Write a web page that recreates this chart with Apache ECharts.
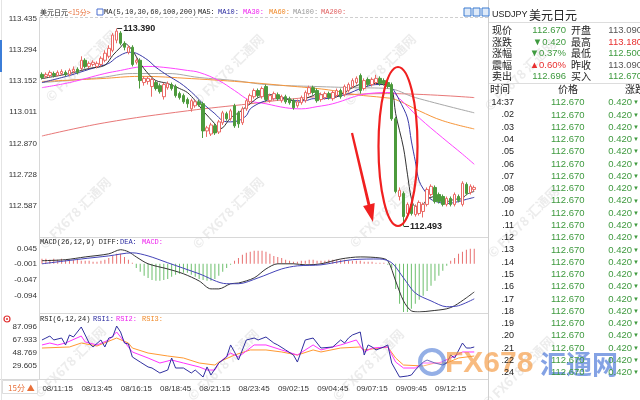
<!DOCTYPE html>
<html><head><meta charset="utf-8">
<script src="https://cdn.jsdelivr.net/npm/echarts@6/dist/echarts.min.js"></script>
<style>html,body{margin:0;padding:0;background:#fff}#c{width:640px;height:400px}</style>
</head><body><div id="c"></div>
<script>
// ---------- DATA ----------
// candles: [open, close, low, high]
const candles = [
[113.182,113.168,113.159,113.191],[113.173,113.182,113.164,113.191],[113.177,113.191,113.168,113.200],
[113.186,113.177,113.168,113.195],[113.177,113.191,113.173,113.200],[113.186,113.195,113.177,113.205],
[113.191,113.182,113.173,113.200],[113.182,113.200,113.173,113.209],[113.195,113.205,113.186,113.218],
[113.205,113.191,113.182,113.214],[113.209,113.246,113.200,113.264],[113.246,113.218,113.209,113.255],
[113.218,113.232,113.209,113.241],[113.227,113.237,113.218,113.246],[113.218,113.232,113.209,113.241],
[113.227,113.255,113.218,113.264],[113.246,113.278,113.237,113.291],[113.264,113.300,113.255,113.314],
[113.291,113.360,113.282,113.369],[113.337,113.378,113.323,113.390],[113.369,113.323,113.314,113.378],
[113.323,113.305,113.291,113.332],[113.282,113.305,113.273,113.314],[113.305,113.227,113.218,113.314],
[113.237,113.246,113.227,113.255],[113.246,113.154,113.118,113.255],[113.145,113.164,113.131,113.173],
[113.150,113.164,113.136,113.173],[113.127,113.159,113.081,113.168],[113.145,113.118,113.109,113.154],
[113.131,113.104,113.095,113.141],[113.081,113.136,113.068,113.145],[113.122,113.141,113.113,113.150],
[113.136,113.118,113.109,113.145],[113.127,113.086,113.077,113.136],[113.095,113.077,113.068,113.104],
[113.086,113.058,113.049,113.095],[113.068,113.049,113.031,113.077],[113.026,113.063,113.013,113.072],
[113.040,113.058,113.031,113.068],[113.058,113.045,113.036,113.068],[113.049,112.926,112.894,113.058],
[112.926,112.940,112.899,112.949],[112.912,112.953,112.903,112.963],[112.949,112.917,112.908,112.958],
[112.921,112.967,112.912,112.976],[112.963,113.008,112.953,113.017],[113.004,112.981,112.972,113.013],
[112.981,113.017,112.972,113.026],[113.040,112.949,112.940,113.049],[113.008,112.958,112.940,113.017],
[112.963,113.026,112.953,113.036],[113.026,113.063,113.017,113.072],[113.058,113.086,113.049,113.095],
[113.081,113.109,113.072,113.118],[113.109,113.086,113.077,113.118],[113.081,113.118,113.072,113.127],
[113.127,113.068,113.058,113.136],[113.063,113.086,113.054,113.095],[113.072,113.095,113.063,113.104],
[113.090,113.072,113.063,113.100],[113.063,113.081,113.054,113.090],[113.081,113.058,113.049,113.090],
[113.072,113.054,113.045,113.081],[113.063,113.031,113.022,113.072],[113.040,113.058,113.031,113.068],
[113.054,113.077,113.045,113.086],[113.063,113.100,113.054,113.109],[113.095,113.122,113.086,113.131],
[113.122,113.100,113.090,113.131],[113.109,113.063,113.054,113.118],[113.068,113.090,113.058,113.100],
[113.077,113.095,113.068,113.104],[113.095,113.077,113.068,113.104],[113.072,113.100,113.063,113.109],
[113.086,113.109,113.077,113.118],[113.109,113.081,113.072,113.118],[113.090,113.127,113.081,113.136],
[113.109,113.136,113.100,113.145],[113.127,113.154,113.118,113.164],[113.145,113.164,113.136,113.173],
[113.177,113.109,113.095,113.186],[113.118,113.154,113.109,113.164],[113.159,113.136,113.127,113.168],
[113.136,113.159,113.127,113.168],[113.145,113.164,113.136,113.180],[113.164,113.141,113.131,113.173],
[113.154,113.141,113.131,113.164],[113.145,113.127,113.118,113.154],[113.136,112.981,112.972,113.145],
[112.981,112.652,112.643,112.990],[112.629,112.657,112.611,112.670],[112.643,112.538,112.493,112.652],
[112.552,112.593,112.543,112.602],[112.593,112.552,112.543,112.602],[112.547,112.584,112.538,112.593],
[112.552,112.602,112.543,112.611],[112.561,112.593,112.534,112.602],[112.593,112.661,112.584,112.670],
[112.638,112.675,112.629,112.684],[112.670,112.606,112.597,112.679],[112.638,112.606,112.597,112.647],
[112.629,112.593,112.584,112.638],[112.593,112.620,112.584,112.629],[112.620,112.593,112.584,112.629],
[112.593,112.638,112.584,112.647],[112.629,112.611,112.602,112.638],[112.593,112.689,112.584,112.698],
[112.684,112.643,112.634,112.693],[112.647,112.675,112.638,112.684],[112.661,112.670,112.652,112.679]
];
// moving averages: [bar index, value]
const ma5 = [[0,113.163],[7,113.186],[12,113.209],[16,113.223],[18,113.268],[20,113.305],[21,113.323],[23,113.291],[25,113.232],[27,113.186],[29,113.154],[32,113.141],[35,113.118],[37,113.100],[39,113.063],[41,113.017],[44,112.958],[45,112.935],[46,112.940],[48,112.985],[50,113.008],[52,113.036],[53,113.049],[55,113.077],[57,113.086],[58,113.090],[60,113.086],[62,113.072],[64,113.063],[65,113.054],[67,113.072],[69,113.086],[70,113.095],[72,113.086],[74,113.077],[77,113.100],[79,113.122],[82,113.141],[85,113.141],[87,113.136],[89,113.118],[90,113.004],[92,112.849],[93,112.730],[94,112.620],[95,112.584],[97,112.593],[98,112.616],[100,112.629],[102,112.616],[103,112.606],[105,112.616],[107,112.620],[108,112.638],[110,112.652]];
const ma10 = [[0,113.145],[7,113.177],[12,113.205],[17,113.232],[19,113.259],[22,113.282],[24,113.278],[27,113.246],[29,113.214],[32,113.177],[35,113.145],[37,113.118],[39,113.086],[41,113.049],[44,113.004],[46,112.972],[48,112.967],[50,112.972],[52,112.995],[53,113.026],[55,113.049],[57,113.063],[59,113.072],[62,113.072],[64,113.063],[67,113.063],[69,113.072],[72,113.072],[74,113.077],[78,113.095],[81,113.118],[85,113.136],[87,113.136],[89,113.122],[91,113.063],[93,112.985],[94,112.880],[95,112.789],[96,112.698],[98,112.638],[99,112.616],[101,112.602],[103,112.597],[106,112.606],[108,112.616],[110,112.625]];
const ma30 = [[0,113.122],[7,113.145],[16,113.186],[20,113.200],[24,113.214],[27,113.218],[31,113.214],[37,113.200],[40,113.191],[45,113.154],[49,113.109],[53,113.063],[57,113.049],[62,113.031],[66,113.026],[70,113.036],[74,113.049],[83,113.095],[89,113.100],[91,113.072],[96,112.985],[102,112.894],[107,112.821],[110,112.775]];
const ma60 = [[0,113.150],[15,113.163],[25,113.173],[38,113.163],[53,113.145],[62,113.131],[70,113.118],[74,113.109],[80,113.090],[87,113.077],[90,113.068],[96,113.017],[102,112.972],[110,112.935]];
const ma100 = [[0,113.145],[15,113.168],[23,113.186],[32,113.186],[40,113.168],[49,113.154],[57,113.136],[70,113.127],[79,113.122],[88,113.118],[95,113.077],[110,113.008]];
const ma200 = [[0,112.903],[16,112.963],[37,113.017],[53,113.049],[62,113.068],[74,113.086],[88,113.095],[110,113.077]];
const extremes = [[19,113.390],[92,112.493]];
// MACD
const macdHist = [0.015,0.015,0.012,0.015,0.012,0.015,0.012,0.012,0.012,0.012,0.009,0.009,0.009,0.006,0.006,0.009,0.012,0.017,0.023,0.029,0.029,0.020,0.012,0.003,
-0.012,-0.023,-0.035,-0.041,-0.047,-0.049,-0.049,-0.047,-0.044,-0.038,-0.032,-0.029,-0.026,-0.026,-0.032,-0.038,-0.044,-0.047,-0.049,-0.049,-0.044,-0.035,-0.023,-0.012,-0.003,
0.009,0.017,0.026,0.032,0.035,0.038,0.038,0.038,0.035,0.029,0.023,0.020,0.017,0.012,0.009,0.006,0.006,0.009,0.009,0.012,0.012,0.009,0.009,0.009,0.012,0.012,0.012,0.012,0.012,0.009,0.009,0.009,0.009,0.006,0.006,0.006,0.003,0.003,0.003,-0.003,
-0.012,-0.073,-0.116,-0.140,-0.140,-0.131,-0.116,-0.105,-0.093,-0.079,-0.064,-0.049,-0.035,-0.020,-0.006,0.009,0.017,0.029,0.035,0.041,0.044,0.044];
const diff = [[0,0.009],[6,0.012],[11,0.020],[17,0.029],[20,0.041],[22,0.035],[24,0.020],[27,0.000],[32,-0.015],[36,-0.029],[40,-0.050],[43,-0.073],[45,-0.073],[48,-0.058],[50,-0.056],[54,-0.041],[57,-0.015],[60,0.000],[64,0.000],[67,-0.003],[71,0.000],[76,0.014],[81,0.020],[86,0.017],[88,0.009],[90,-0.050],[92,-0.108],[94,-0.137],[96,-0.140],[99,-0.137],[103,-0.131],[105,-0.122],[108,-0.099],[110,-0.082]];
const dea = [[0,0.000],[10,0.014],[17,0.023],[23,0.032],[27,0.023],[32,0.003],[40,-0.029],[47,-0.058],[50,-0.058],[55,-0.041],[61,-0.015],[65,-0.006],[71,-0.003],[79,0.012],[86,0.014],[89,0.003],[92,-0.041],[95,-0.085],[99,-0.108],[103,-0.125],[106,-0.122],[110,-0.102]];
// RSI
const rsi1 = [[0,67.4],[1,70.2],[2,73.1],[3,67.4],[5,70.2],[6,60.2],[7,74.6],[8,71.7],[10,86.1],[11,74.6],[12,63.0],[13,57.3],[15,67.4],[16,57.3],[17,70.2],[18,71.7],[19,87.5],[20,78.9],[21,63.0],[22,61.6],[23,42.9],[25,35.6],[27,28.5],[28,27.0],[30,19.8],[32,24.1],[33,41.4],[34,27.0],[36,27.0],[38,19.8],[39,24.1],[41,14.0],[42,28.5],[43,16.9],[45,34.2],[47,42.9],[48,60.2],[49,50.1],[50,38.5],[52,67.4],[54,70.2],[55,67.4],[57,71.7],[59,63.0],[60,60.2],[62,53.0],[64,45.7],[65,35.6],[67,67.4],[69,70.2],[71,55.8],[74,57.3],[76,67.4],[77,63.0],[78,70.2],[79,74.6],[81,78.9],[82,45.7],[83,60.2],[84,57.3],[85,53.0],[87,57.3],[88,60.2],[89,34.2],[90,24.1],[91,14.0],[93,15.5],[94,16.9],[95,24.1],[97,35.6],[98,38.5],[100,34.2],[102,31.3],[103,34.2],[104,45.7],[105,41.4],[107,63.0],[108,55.8],[109,55.8],[110,57.3]];
const rsi2 = [[0,60.2],[2,63.0],[4,60.2],[6,63.0],[10,73.1],[11,64.5],[14,60.2],[17,67.4],[19,78.9],[21,64.5],[23,50.1],[27,41.4],[30,34.2],[33,38.5],[36,34.2],[40,28.5],[42,24.1],[44,24.1],[45,34.2],[48,48.6],[50,42.9],[54,60.2],[57,60.2],[61,53.0],[65,45.7],[69,60.2],[71,53.0],[76,60.2],[80,67.4],[82,50.1],[84,55.8],[88,57.3],[90,35.6],[92,27.0],[95,27.0],[97,34.2],[101,34.2],[104,41.4],[107,50.1],[110,50.1]];
const rsi3 = [[0,55.8],[7,57.3],[10,63.0],[14,58.7],[19,70.2],[22,63.0],[23,55.8],[27,48.6],[32,44.3],[36,41.4],[40,34.2],[44,31.3],[45,35.6],[49,45.7],[53,53.0],[57,53.0],[61,50.1],[65,45.7],[69,53.0],[71,50.1],[76,55.8],[81,57.3],[82,53.0],[88,57.3],[90,41.4],[92,31.3],[97,29.9],[100,34.2],[103,34.2],[106,41.4],[110,44.3]];
// axis tick labels
const priceTicks = ['112.587','112.728','112.870','113.011','113.152','113.294','113.435'];
const macdTicks = ['-0.094','-0.047','-0.001','0.045'];
const rsiTicks = ['29.605','48.769','67.933','87.096'];
const timeTicks = ['08/11:15','08/13:45','08/16:15','08/18:45','08/21:15','08/23:45','09/02:15','09/04:45','09/07:15','09/09:45','09/12:15'];
// quote panel
const quoteLabelsL = ['现价','涨跌','涨幅','震幅','卖出'];
const quoteValuesL = ['112.670','▼0.420','▼0.37%','▲0.60%','112.696'];
const quoteLabelsR = ['开盘','最高','最低','昨收','买入'];
const quoteValuesR = ['113.090','113.180','112.500','113.090','112.670'];
const tickTimes = ['14:37','.02','.03','.04','.05','.06','.07','.08','.09','.10','.11','.12','.13','.14','.15','.16','.17','.18','.19','.20','.21','.22','.24'];
const tickPrices = tickTimes.map(()=> '112.670');
const tickChanges = tickTimes.map(()=> '0.420');

// ---------- BUILD ----------
const NCAT = 114;
const cats = [];
{ let d = 8, h = 10, m = 15;
  for (let i = 0; i < NCAT; i++) {
    cats.push(String(d).padStart(2,'0') + '/' + String(h).padStart(2,'0') + ':' + String(m).padStart(2,'0'));
    m += 15; if (m >= 60) { m -= 60; h++; } if (h >= 24) { h -= 24; d++; }
  } }
const nearest = (labels, tol) => v => { for (const l of labels) if (Math.abs(parseFloat(l) - v) < tol) return l; return ''; };

const GREEN = '#3f9a3f', RED = '#e83030';
const CJK = '"Noto Sans CJK SC", sans-serif';
const MONO = '"Liberation Mono", "DejaVu Sans Mono", monospace';
const NUM = '"Liberation Sans", Arial, sans-serif';

const g = [];
const txt = (x, y, t, fill, font, align) => g.push({type:'text', silent:true, style:{x, y, text:t, fill, font, textAlign: align||'left', textVerticalAlign:'middle', align: align||'left', verticalAlign:'middle'}, z:10});
const line = (x1,y1,x2,y2,stroke,dash) => g.push({type:'line', silent:true, shape:{x1,y1,x2,y2}, style:{stroke, lineWidth:1, lineDash: dash||null}, z:5});

// watermarks
const wm = [[81,66],[228,70],[380,70],[520,75],[75,213],[228,213],[385,212],[523,222],[70,362],[223,365],[368,365],[518,372]];
wm.forEach(p => g.push({type:'text', silent:true, x:p[0], y:p[1], rotation:Math.PI/4, style:{x:0,y:0,text:'© FX678 汇通网', fill:'rgba(140,140,140,0.17)', font:'bold 13px ' + CJK, textAlign:'center', textVerticalAlign:'middle', align:'center', verticalAlign:'middle'}, z:1}));

// frame lines
line(40, 17.5, 488, 17.5, '#cfcfcf', [3,2]);
line(39.5, 17, 39.5, 380, '#d8d8d8');
line(488.5, 0, 488.5, 400, '#cfcfcf');
line(40, 237.5, 488, 237.5, '#d8d8d8');
line(40, 313.5, 488, 313.5, '#d8d8d8');
line(0, 379.5, 488, 379.5, '#d8d8d8');
line(1.5, 0, 1.5, 400, '#e4e4e4');
g.push({type:'rect', silent:true, shape:{x:0,y:40,width:2,height:32}, style:{fill:'#3b7dd8'}, z:6});

// legends
txt(40, 12.5, '美元日元', '#222', '7px ' + CJK);
txt(68, 12.5, '<15分>', '#e8703a', '7px ' + CJK);
g.push({type:'rect', silent:true, shape:{x:97,y:9,width:6,height:6}, style:{fill:'#fff', stroke:'#4a6fd0', lineWidth:1}, z:10});
txt(104, 12.5, 'MA(5,10,30,60,100,200)', '#222', '7px ' + MONO);
txt(198, 12.5, 'MA5:', '#222', '7px ' + MONO);
txt(218, 12.5, 'MA10:', '#2a2aa0', '7px ' + MONO);
txt(243, 12.5, 'MA30:', '#ee22ee', '7px ' + MONO);
txt(269, 12.5, 'MA60:', '#f08a2a', '7px ' + MONO);
txt(293, 12.5, 'MA100:', '#999', '7px ' + MONO);
txt(321, 12.5, 'MA200:', '#e06060', '7px ' + MONO);
[464,473,482].forEach(x => g.push({type:'rect', silent:true, shape:{x:x,y:8,width:7,height:8}, style:{fill:'#dfeaf8', stroke:'#3a7ad0', lineWidth:1}, z:10}));
txt(40, 242, 'MACD(26,12,9) DIFF:', '#222', '7px ' + MONO);
txt(120, 242, 'DEA:', '#2a2aa0', '7px ' + MONO);
txt(142, 242, 'MACD:', '#ee22ee', '7px ' + MONO);
txt(40, 319, 'RSI(6,12,24)', '#222', '7px ' + MONO);
txt(93, 319, 'RSI1:', '#2a2aa0', '7px ' + MONO);
txt(116, 319, 'RSI2:', '#ee22ee', '7px ' + MONO);
txt(142, 319, 'RSI3:', '#f08a2a', '7px ' + MONO);
g.push({type:'circle', silent:true, shape:{cx:7,cy:319,r:3}, style:{fill:'#fff', stroke:'#e03030', lineWidth:1.2}, z:10});
g.push({type:'circle', silent:true, shape:{cx:7,cy:319,r:1}, style:{fill:'#e03030'}, z:10});
// 15分 button
g.push({type:'rect', silent:true, shape:{x:2.5,y:380.5,width:35,height:13}, style:{fill:'#fff', stroke:'#ddd', lineWidth:1}, z:10});
txt(8, 387.5, '15分 ▲', '#e8703a', '8px ' + CJK);

// annotations: ellipse + arrow
g.push({type:'ellipse', silent:true, shape:{cx:398, cy:146.5, rx:19.5, ry:79.5}, style:{fill:'none', stroke:'#f02020', lineWidth:2.2}, z:20});
g.push({type:'polygon', silent:true, shape:{points:[[350.9,133.2],[353.1,132.8],[370.3,204.3],[374.7,203.1],[373,222],[363.1,205.9],[367.5,204.9]]}, style:{fill:'#f02020'}, z:20});

// big logo
g.push({type:'circle', silent:true, shape:{cx:432, cy:362, r:12}, style:{fill:'rgba(255,255,255,0.3)', stroke:'rgba(60,110,210,0.55)', lineWidth:4}, z:15});
txt(445, 364, 'FX678', 'rgba(245,150,60,0.65)', 'bold 30px ' + NUM);
txt(540, 364, '汇通网', 'rgba(50,100,210,0.6)', 'bold 26px ' + CJK);

// quote panel
txt(492, 15, 'USDJPY', '#222', '9px ' + NUM);
txt(529, 15, '美元日元', '#222', '12px ' + CJK);
line(489, 22.5, 640, 22.5, '#ddd');
const colL = [GREEN, GREEN, GREEN, RED, GREEN];
const colR = ['#555', RED, GREEN, '#555', GREEN];
quoteLabelsL.forEach((l,k) => {
  const y = 30.7 + k*11.5;
  txt(492, y, l, '#222', '10px ' + CJK);
  txt(566, y, quoteValuesL[k], colL[k], '9.5px ' + NUM, 'right');
  txt(571, y, quoteLabelsR[k], '#222', '10px ' + CJK);
  txt(642, y, quoteValuesR[k], colR[k], '9.5px ' + NUM, 'right');
});
line(489, 83.5, 640, 83.5, '#ddd');
txt(490, 89.5, '时间', '#222', '10px ' + CJK);
txt(558, 89.5, '价格', '#222', '10px ' + CJK);
txt(625, 89.5, '涨跌', '#222', '10px ' + CJK);
tickTimes.forEach((t,k) => {
  const y = 102.7 + k*12.27;
  txt(514, y, t, '#222', '9px ' + NUM, 'right');
  txt(551, y, tickPrices[k], GREEN, '9.5px ' + NUM);
  txt(632, y, tickChanges[k], GREEN, '9.5px ' + NUM, 'right');
  txt(633, y, '▼', GREEN, '6px ' + NUM);
});

const lineS = (name, data, color, xi, yi, smooth) => ({name, type:'line', data, xAxisIndex:xi, yAxisIndex:yi, symbol:'none', smooth: smooth, lineStyle:{color, width:1}, silent:true, z:3});

const catAxis = (gi, show) => ({type:'category', gridIndex:gi, data:cats, boundaryGap:true,
  axisLine:{show:false}, axisTick:{show:false}, splitLine:{show:false},
  axisLabel: show ? {show:true, interval:(i)=> i % 10 === 4, formatter:(v)=> timeTicks.includes(v) ? v : '', color:'#333', fontSize:8, fontFamily:NUM, margin:5} : {show:false}});
const valAxis = (gi, min, max, interval, labels, tol) => ({type:'value', gridIndex:gi, min, max, interval, scale:true,
  axisLine:{show:false}, axisTick:{show:false}, splitLine:{show:false},
  axisLabel:{show:true, formatter: nearest(labels, tol), color:'#333', fontSize:8, fontFamily:NUM, margin:3, showMinLabel:true, showMaxLabel:true}});

const chart = echarts.init(document.getElementById('c'), null, {renderer:'canvas'});
chart.setOption({
  animation:false,
  backgroundColor:'#fff',
  grid:[
    {left:40, top:17, width:448, height:220},
    {left:40, top:237, width:448, height:75},
    {left:40, top:313, width:448, height:66.5}
  ],
  xAxis:[catAxis(0,false), catAxis(1,false), catAxis(2,true)],
  yAxis:[
    valAxis(0, 112.4455, 113.442, 0.14133, priceTicks, 0.004),
    valAxis(1, -0.1403, 0.078, 0.0463, macdTicks, 0.004),
    valAxis(2, 10.441, 106.26, 19.164, rsiTicks, 0.05)
  ],
  series:[
    lineS('MA200', ma200, '#e87878', 0, 0, 0.4),
    lineS('MA100', ma100, '#a8a8a8', 0, 0, 0.4),
    lineS('MA60', ma60, '#f7963a', 0, 0, 0.4),
    lineS('MA30', ma30, '#ff44ff', 0, 0, 0.4),
    {type:'candlestick', name:'K', data:candles, xAxisIndex:0, yAxisIndex:0, barWidth:3, silent:true, z:4,
      itemStyle:{color:'#ffffff', color0:'#4c9a3c', borderColor:'#ea6a66', borderColor0:'#4c9a3c', borderWidth:1},
      markPoint:{silent:true, symbol:'rect', symbolSize:[5,1], symbolOffset:[3,0], itemStyle:{color:'#333'},
        label:{show:true, position:'right', distance:1, color:'#222', fontSize:9, fontWeight:'bold', fontFamily:NUM, formatter:(p)=> p.value.toFixed(3)},
        data: extremes.map(e => ({coord:[e[0], e[1]], value:e[1]}))}},
    lineS('MA10', ma10, '#3a3aa8', 0, 0, 0.3),
    lineS('MA5', ma5, '#333333', 0, 0, 0.3),
    {type:'bar', name:'MACD', data:macdHist, xAxisIndex:1, yAxisIndex:1, barWidth:1, silent:true,
      itemStyle:{color:(p)=> p.value >= 0 ? '#e87070' : '#6cbf6c'}},
    lineS('DIFF', diff, '#333333', 1, 1, 0.3),
    lineS('DEA', dea, '#4444b8', 1, 1, 0.3),
    lineS('RSI3', rsi3, '#ff9933', 2, 2, false),
    lineS('RSI2', rsi2, '#ff33ff', 2, 2, false),
    lineS('RSI1', rsi1, '#3030a0', 2, 2, false)
  ],
  graphic: g
});
</script></body></html>
